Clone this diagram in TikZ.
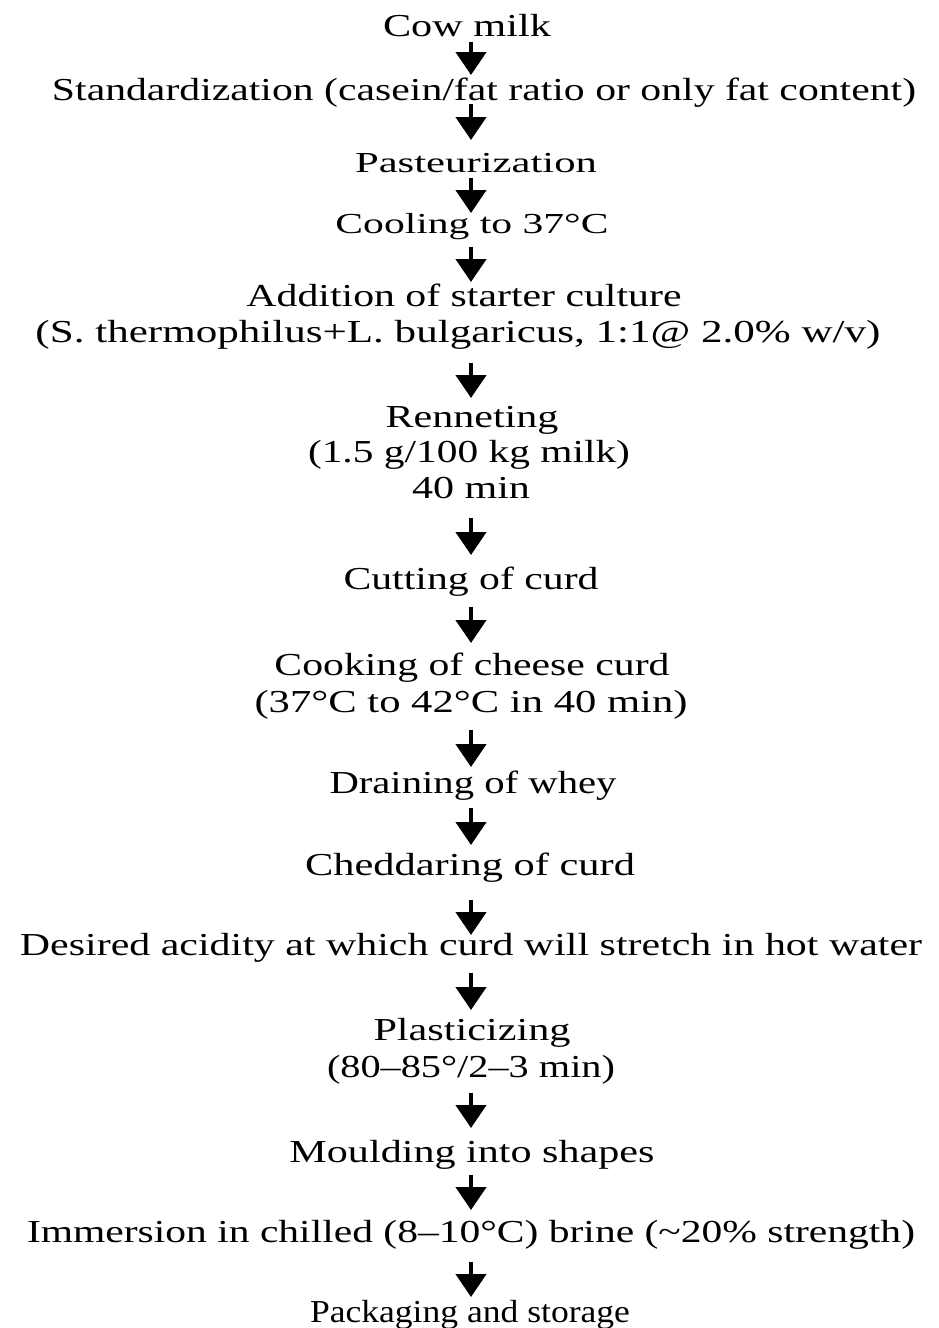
\documentclass[tikz,border=0pt]{standalone}
\usepackage{fontspec}
\setmainfont{Liberation Serif}
\usetikzlibrary{arrows.meta,calc}

% stretch a line of text horizontally to a given ink width, keeping its height
\newcommand\fitline[2]{\resizebox{#1pt}{\height}{#2}}
% arrow on the common axis, from below one stage down to just above the next
\newcommand\flowarrow[4]{\draw[flow] ($(#1.base -| ax)+(0,#2)$) -- ($(#3.base -| ax)+(0,-#4)$);}

\begin{document}
\begin{tikzpicture}[x=1pt,y=-1pt,
  stage/.style={anchor=base,inner sep=0pt,font=\fontsize{32}{36}\selectfont},
  small/.style={font=\fontsize{29}{33}\selectfont},
  flow/.style={line width=4.5pt,-{Triangle[width=30pt,length=23pt]}}]

\fill[white] (0,0) rectangle (938,1328);
\useasboundingbox (0,0) rectangle (938,1328);

\coordinate (ax) at (471,0);

% process stages
\node[stage] (cow)   at (467,36)   {\fitline{168}{Cow milk}};
\node[stage] (std)   at (484,100)  {\fitline{864}{Standardization (casein/fat ratio or only fat content)}};
\node[stage,small] (past) at (476,172) {\fitline{242}{Pasteurization}};
\node[stage,small] (cool) at (472,233) {\fitline{273}{Cooling to 37°C}};
\node[stage] (add)   at (464,306)  {\fitline{435}{Addition of starter culture}};
\node[stage] (cult)  at (458,342)  {\fitline{845}{(S. thermophilus+L. bulgaricus, 1:1@ 2.0\% w/v)}};
\node[stage] (ren)   at (472,427)  {\fitline{173}{Renneting}};
\node[stage] (dose)  at (469,462)  {\fitline{322}{(1.5 g/100 kg milk)}};
\node[stage] (time)  at (471,498)  {\fitline{118}{40 min}};
\node[stage] (cut)   at (471,589)  {\fitline{255}{Cutting of curd}};
\node[stage] (cook)  at (472,675)  {\fitline{395}{Cooking of cheese curd}};
\node[stage] (temp)  at (471,712)  {\fitline{433}{(37°C to 42°C in 40 min)}};
\node[stage] (drain) at (473,793)  {\fitline{287}{Draining of whey}};
\node[stage] (ched)  at (470,875)  {\fitline{330}{Cheddaring of curd}};
\node[stage] (acid)  at (471,955)  {\fitline{902}{Desired acidity at which curd will stretch in hot water}};
\node[stage] (plas)  at (472,1040) {\fitline{197}{Plasticizing}};
\node[stage] (heat)  at (471,1077) {\fitline{288}{(80–85°/2–3 min)}};
\node[stage] (mould) at (472,1162) {\fitline{365}{Moulding into shapes}};
\node[stage] (brine) at (471,1242) {\fitline{888}{Immersion in chilled (8–10°C) brine (\textasciitilde20\% strength)}};
\node[stage] (pack)  at (470,1322) {\fitline{320}{Packaging and storage}};

% flow arrows
\flowarrow{cow}{6}{std}{25}
\flowarrow{std}{4}{past}{32}
\flowarrow{past}{6}{cool}{20}
\flowarrow{cool}{14}{add}{24}
\flowarrow{cult}{21}{ren}{29}
\flowarrow{time}{20}{cut}{34}
\flowarrow{cut}{18}{cook}{32}
\flowarrow{temp}{18}{drain}{26}
\flowarrow{drain}{15}{ched}{30}
\flowarrow{ched}{25}{acid}{20}
\flowarrow{acid}{18}{plas}{30}
\flowarrow{heat}{16}{mould}{34}
\flowarrow{mould}{13}{brine}{32}
\flowarrow{brine}{20}{pack}{25}
\end{tikzpicture}
\end{document}
